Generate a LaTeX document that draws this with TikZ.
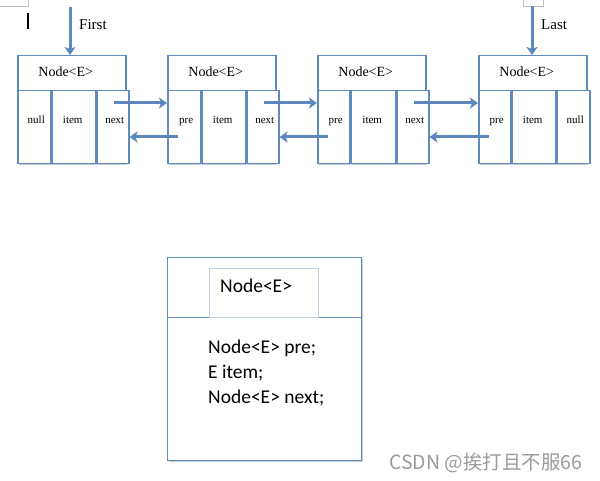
\documentclass[tikz,border=0pt]{standalone}
\usepackage{fontspec}
\setmainfont{Liberation Serif}
\newfontfamily\calib{Carlito}
\newfontfamily\cjk{Noto Sans CJK SC}
\usetikzlibrary{arrows.meta,calc}
\definecolor{bblue}{RGB}{96,139,192}
\definecolor{ablue}{RGB}{92,136,190}
\definecolor{lblue}{RGB}{190,208,230}
\definecolor{wmgray}{RGB}{155,155,155}
\definecolor{shd}{RGB}{200,204,210}
\tikzset{
  hdr/.style={draw=bblue,line width=1.5pt,fill=white,anchor=north west,minimum width=108pt,minimum height=35pt,inner sep=0pt},
  cell/.style={draw=bblue,line width=1.5pt,fill=white,anchor=north west,minimum height=73pt,inner sep=0pt},
  lbl/.style={font=\fontsize{11}{13}\selectfont,inner sep=0pt,anchor=base},
  htxt/.style={font=\fontsize{14}{16}\selectfont,inner sep=0pt,anchor=base},
  link/.style={draw=ablue,line width=3pt,-{Stealth[length=8pt,width=11pt,inset=2pt]}},
  btxt/.style={font=\calib\fontsize{19.5}{22}\selectfont,inner sep=0pt,anchor=base west}
}
\begin{document}
\begin{tikzpicture}[x=1pt,y=-1pt]
\useasboundingbox (0,0) rectangle (600,481);
\fill[white] (0,0) rectangle (600,481);
% page marks
\draw[gray!50,line width=0.8pt] (0,6) -- (28,6) -- (28,0);
\draw[black,line width=1.1pt] (28,13) -- (28,29);
\draw[gray!50,line width=0.8pt] (523,0) -- (523,6) -- (543,6) -- (543,0);
% boxes
\foreach \i/\x/\a/\b/\la/\lc in {1/17/33/43/null/next,2/167/33/43/pre/next,3/317/32/44/pre/next,4/478/32/43/pre/null}{
  \fill[shd] (\x+2,57) rectangle (\x+110,165);
  \node[hdr] (h\i) at (\x,55) {};
  \node[htxt] (ht\i) at ($(h\i.center |- 0,77)+(-6,0)$) {Node<E>};
  \node[cell,minimum width=\a pt] (c\i1) at (\x,90) {};
  \node[cell,minimum width=\b pt] (c\i2) at (c\i1.north east) {};
  \node[cell,minimum width={108pt-\a pt-\b pt}] (c\i3) at (c\i2.north east) {};
  \node[lbl] (t\i1) at ($(c\i1.center |- 0,124)+(2,0)$) {\la};
  \node[lbl] (t\i2) at ($(c\i2.center |- 0,124)+(-1,0)$) {item};
  \node[lbl] (t\i3) at ($(c\i3.center |- 0,124)+(2,0)$) {\lc};
}
% first / last
\coordinate (fs) at (70,7);
\coordinate (ls) at (532,6);
\draw[link] (fs) -- (fs |- h1.north);
\draw[link] (ls) -- (ls |- h4.north);
\node[font=\fontsize{15}{17}\selectfont,anchor=base west,inner sep=0pt] (first) at (79,30) {First};
\node[font=\fontsize{15}{17}\selectfont,anchor=base west,inner sep=0pt] (last) at (541,30) {Last};
% links
\coordinate (f1) at (114,103);
\coordinate (f2) at (264,103);
\coordinate (f3) at (414,103);
\coordinate (b1) at (178,137);
\coordinate (b2) at (328,137);
\coordinate (b3) at (489,137);
\draw[link] (f1) -- (f1 -| c21.west);
\draw[link] (f2) -- (f2 -| c31.west);
\draw[link] (f3) -- (f3 -| c41.west);
\draw[link] (b1) -- (b1 -| c13.east);
\draw[link] (b2) -- (b2 -| c23.east);
\draw[link] (b3) -- (b3 -| c33.east);
% bottom box
\fill[shd] (169,259) rectangle (363,462);
\node[draw=bblue,line width=1.4pt,fill=white,anchor=north west,minimum width=194pt,minimum height=60pt,inner sep=0pt] (bh) at (167,257) {};
\node[draw=bblue,line width=1.4pt,fill=white,anchor=north west,minimum width=194pt,minimum height=143pt,inner sep=0pt] (bb) at (167,317) {};
\node[draw=lblue,line width=0.8pt,anchor=north west,minimum width=109pt,minimum height=49pt,inner sep=0pt] (bi) at (209,268) {};
\node[btxt] (bt) at (220,292) {Node<E>};
\node[btxt] (l1) at (208,353) {Node<E> pre;};
\node[btxt] (l2) at (208,378) {E item;};
\node[btxt] (l3) at (208,403) {Node<E> next;};
% watermark
\node[font=\cjk\fontsize{19.5}{22}\selectfont,text=wmgray,anchor=base west,inner sep=0pt] (wm) at (389,469) {CSDN @挨打且不服66};
\end{tikzpicture}
\end{document}
